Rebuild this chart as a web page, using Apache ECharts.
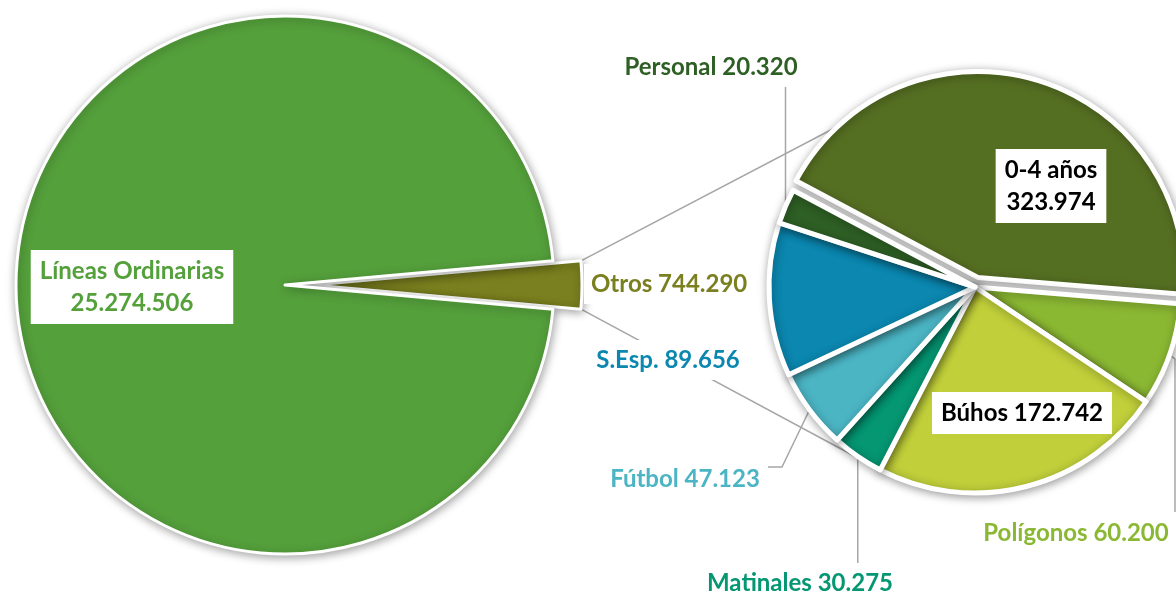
<!DOCTYPE html>
<html><head><meta charset="utf-8">
<script src="https://cdn.jsdelivr.net/npm/echarts@6/dist/echarts.min.js"></script>
<style>html,body{margin:0;padding:0;background:#fff}#c{width:1176px;height:596px}</style>
</head><body><div id="c"></div>
<script>
// ---- data ----
const mainNames = ['Otros', 'Líneas Ordinarias'];
const mainValues = [744290, 25274506];
const subNames = ['0-4 años', 'Polígonos', 'Búhos', 'Matinales', 'Fútbol', 'S.Esp.', 'Personal'];
const subValues = [323974, 60200, 172742, 30275, 47123, 89656, 20320];
const explodedNames = ['Otros', '0-4 años'];

// ---- style ----
const sliceColors = {
  'Otros': '#7A7F1F', 'Líneas Ordinarias': '#54A03B',
  '0-4 años': '#556F22', 'Polígonos': '#8BB833', 'Búhos': '#C0CF3A',
  'Matinales': '#059672', 'Fútbol': '#4BB5C4', 'S.Esp.': '#0B87B0', 'Personal': '#2E5F24'
};
const FONT = 'Lato, "Open Sans", sans-serif';
const FS = 24;
const LINE_COLOR = '#A6A6A6';

const mainCenter = [285, 285], mainR = 269, mainOffset = 28;
const subCenter = [975, 287], subR = 206, subOffset = 10;
const mainTotal = mainValues.reduce((a, b) => a + b, 0);
const subTotal = subValues.reduce((a, b) => a + b, 0);
const otrosDeg = mainValues[0] / mainTotal * 360;
const mainStart = otrosDeg / 2;
const subStart = 152;

function fmt(v) { return String(v).replace(/\B(?=(\d{3})+(?!\d))/g, '.'); }

// label boxes (layout only)
const labelPos = {
  'Líneas Ordinarias': { x: 132, y: 287, align: 'center', inside: true, two: true },
  'Otros': { x: 584, y: 284, align: 'left' },
  '0-4 años': { x: 1051, y: 186, align: 'center', inside: true, two: true, dark: true },
  'Búhos': { x: 1022, y: 413, align: 'center', inside: true, dark: true },
  'Personal': { x: 711, y: 67, align: 'center', line: e => [e, [e[0], e[1] - 50], [e[0], 87]] },
  'S.Esp.': { x: 668, y: 360, align: 'center' },
  'Fútbol': { x: 685, y: 479, align: 'center', line: e => [e, [782, 467], [768, 467]] },
  'Matinales': { x: 800, y: 583, align: 'center', line: e => [e, [e[0], 520], [e[0], 566]] },
  'Polígonos': { x: 1076, y: 533, align: 'center', line: e => [e, [1175, e[1] + 4], [1175, 512]] }
};

function subEdge(i) {
  let cum = 0;
  for (let k = 0; k < i; k++) cum += subValues[k];
  const mid = (subStart - (cum + subValues[i] / 2) / subTotal * 360) * Math.PI / 180;
  return [subCenter[0] + subR * Math.cos(mid), subCenter[1] - subR * Math.sin(mid)];
}

// visible slices; labels of exploded slices are drawn by an overlay series (labelLayout
// does not move labels of selected slices)
function makeItem(name, value, overlay) {
  const cfg = labelPos[name];
  const exploded = explodedNames.indexOf(name) >= 0;
  const showLabel = overlay ? exploded : !exploded;
  return {
    name, value,
    selected: !overlay && exploded,
    itemStyle: overlay
      ? { color: 'rgba(0,0,0,0)', borderWidth: 0, shadowBlur: 0, shadowColor: 'rgba(0,0,0,0)' }
      : { color: sliceColors[name] },
    label: {
      show: showLabel,
      position: cfg.inside ? 'inside' : 'outside',
      color: cfg.dark ? '#000' : sliceColors[name],
      backgroundColor: '#fff',
      padding: cfg.inside ? [5, 9] : [4, 7],
      lineHeight: 32
    },
    labelLine: { show: showLabel && !!cfg.line }
  };
}

function labelFormatter(p) {
  const cfg = labelPos[p.name];
  return p.name + (cfg.two ? '\n' : ' ') + fmt(p.value);
}

// connector lines (tangents from the exploded "Otros" slice corners to the secondary pie)
const half = otrosDeg / 2 * Math.PI / 180;
const cornerTop = [mainCenter[0] + mainOffset + mainR * Math.cos(half), mainCenter[1] - mainR * Math.sin(half)];
const cornerBot = [mainCenter[0] + mainOffset + mainR * Math.cos(half), mainCenter[1] + mainR * Math.sin(half)];
function tangent(P, upper) {
  const dx = subCenter[0] - P[0], dy = subCenter[1] - P[1];
  const d = Math.hypot(dx, dy);
  const phi = Math.atan2(dy, dx);
  const a = Math.asin(subR / d);
  const L = Math.sqrt(d * d - subR * subR);
  const ang = upper ? phi - a : phi + a;
  return [P[0] + L * Math.cos(ang), P[1] + L * Math.sin(ang)];
}
const tTop = tangent(cornerTop, true);
const tBot = tangent(cornerBot, false);

function layoutFor(names) {
  return function (p) {
    const cfg = labelPos[names[p.dataIndex]];
    const out = { x: cfg.x, y: cfg.y, align: cfg.align, verticalAlign: 'middle' };
    if (cfg.line) out.labelLinePoints = cfg.line(subEdge(p.dataIndex));
    return out;
  };
}

const commonSeries = {
  type: 'pie',
  clockwise: true,
  avoidLabelOverlap: false,
  selectedMode: 'multiple',
  emphasis: { disabled: true },
  silent: true,
  animation: false,
  label: {
    show: true,
    fontFamily: FONT, fontSize: FS, fontWeight: 'bold',
    formatter: labelFormatter
  },
  labelLine: { show: true, smooth: false, lineStyle: { color: LINE_COLOR, width: 1.5 } },
  itemStyle: {
    borderColor: '#fff', borderWidth: 3,
    shadowBlur: 10, shadowColor: 'rgba(0,0,0,0.35)', shadowOffsetX: 1, shadowOffsetY: 2
  }
};

function pieSeries(name, names, values, center, r, start, offset, bw, overlay) {
  return Object.assign({}, commonSeries, {
    name: name,
    center: center, radius: r,
    startAngle: start,
    selectedOffset: offset,
    selectedMode: overlay ? false : 'multiple',
    itemStyle: Object.assign({}, commonSeries.itemStyle, { borderWidth: bw }),
    data: names.map((n, i) => makeItem(n, values[i], overlay)),
    labelLayout: layoutFor(names),
    z: overlay ? 3 : 2
  });
}

const option = {
  backgroundColor: '#fff',
  animation: false,
  graphic: [
    { type: 'line', z: 1, shape: { x1: cornerTop[0], y1: cornerTop[1], x2: tTop[0], y2: tTop[1] }, style: { stroke: LINE_COLOR, lineWidth: 1.5 } },
    { type: 'line', z: 1, shape: { x1: cornerBot[0], y1: cornerBot[1], x2: tBot[0], y2: tBot[1] }, style: { stroke: LINE_COLOR, lineWidth: 1.5 } }
  ],
  series: [
    pieSeries('main', mainNames, mainValues, mainCenter, mainR, mainStart, mainOffset, 3, false),
    pieSeries('sub', subNames, subValues, subCenter, subR, subStart, subOffset, 5, false),
    pieSeries('mainLabels', mainNames, mainValues, mainCenter, mainR, mainStart, mainOffset, 0, true),
    pieSeries('subLabels', subNames, subValues, subCenter, subR, subStart, subOffset, 0, true)
  ]
};

const chart = echarts.init(document.getElementById('c'), null, { renderer: 'canvas' });
chart.setOption(option);
</script>
</body></html>
